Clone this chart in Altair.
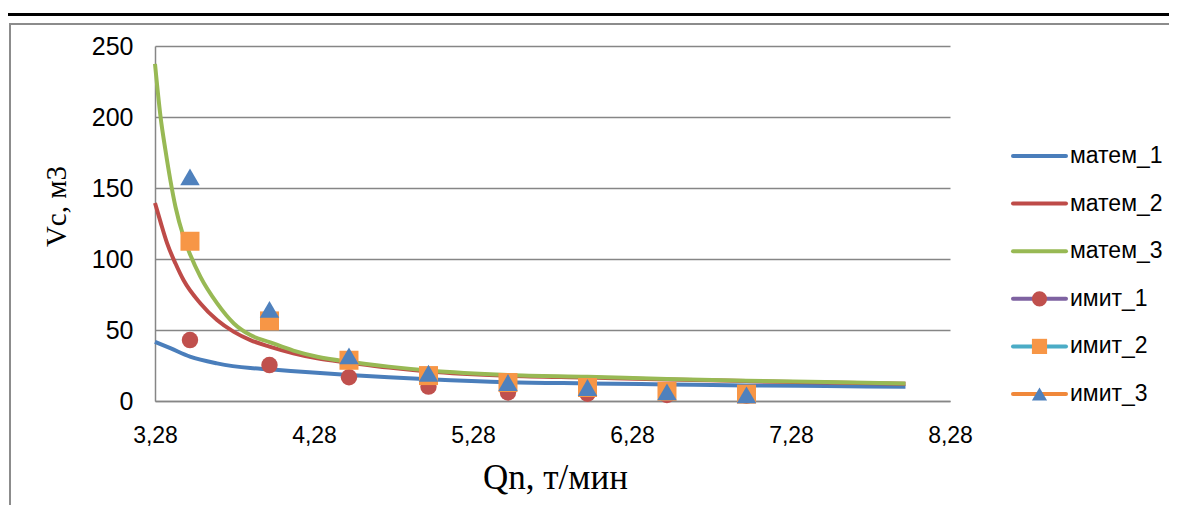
import altair as alt
import pandas as pd

# ---- data ----
m1_x = [3.28, 3.38, 3.50, 3.67, 3.88, 4.0, 4.25, 4.5, 4.75, 5.0, 5.5, 6.0, 6.5, 7.0, 7.5, 8.0]
m1_y = [41.7, 37.0, 31.2, 26.5, 23.2, 22.3, 20.2, 18.3, 16.7, 15.3, 13.2, 12.4, 11.7, 11.0, 10.5, 10.0]

m2_x = [3.28, 3.315, 3.357, 3.409, 3.46, 3.566, 3.67, 3.776, 3.88, 4.0, 4.15, 4.3, 4.5, 4.75,
        5.0, 5.5, 6.0, 6.5, 7.0, 7.5, 8.0]
m2_y = [139.4, 126.0, 110.8, 96.8, 85.0, 68.7, 57.0, 48.7, 42.9, 38.3, 33.6, 30.0, 27.0, 23.5,
        20.8, 17.8, 16.5, 15.2, 14.0, 13.0, 12.2]

m3_x = [3.28, 3.315, 3.346, 3.377, 3.409, 3.46, 3.503, 3.566, 3.671, 3.776, 3.88, 4.0, 4.15,
        4.3, 4.5, 4.75, 5.0, 5.5, 6.0, 6.5, 7.0, 7.5, 8.0]
m3_y = [237.4, 200.0, 176.4, 155.3, 136.6, 115.5, 102.6, 87.4, 68.7, 54.6, 46.4, 41.5, 35.5,
        31.2, 27.6, 24.2, 21.5, 18.3, 17.0, 15.5, 14.3, 13.3, 12.4]

im_x = [3.5, 4.0, 4.5, 5.0, 5.5, 6.0, 6.5, 7.0]
im1_y = [42.9, 25.3, 16.7, 10.1, 6.0, 5.1, 4.2, 3.7]
im2_y = [112.5, 56.4, 28.7, 17.9, 13.0, 9.5, 6.8, 4.8]
im3_y = [157.8, 64.5, 31.8, 19.5, 13.0, 9.5, 6.4, 4.3]

x_ticks = [3.28, 4.28, 5.28, 6.28, 7.28, 8.28]
y_ticks = [0, 50, 100, 150, 200, 250]

legend_names = ["матем_1", "матем_2", "матем_3", "имит_1", "имит_2", "имит_3"]
legend_line_colors = ["#4A7EBB", "#BE4B48", "#98B954", "#7E62A1", "#4BACC6", "#F0883A"]
marker_names = ["имит_1", "имит_2", "имит_3"]
marker_colors = ["#C0504D", "#F79646", "#4F81BD"]
marker_shapes = ["circle", "square", "triangle-up"]

GRID = "#868686"
SANS = "Liberation Sans"
SERIF = "Liberation Serif"

W, H = 795, 355
PAD = {"left": 147, "top": 38, "right": 219, "bottom": 104}

xscale = alt.Scale(domain=[3.28, 8.28], nice=False, zero=False)
yscale = alt.Scale(domain=[0, 250], nice=False)

x_axis = alt.Axis(
    values=x_ticks,
    labelExpr="replace(format(datum.value, '.2f'), '.', ',')",
    grid=False, ticks=False, domainColor=GRID, domainWidth=1.5,
    labelFont=SANS, labelFontSize=23, labelColor="#000", labelPadding=23,
    labelFlush=False,
    title="Qn, т/мин", titleFont=SERIF, titleFontSize=35, titleFontWeight="normal",
    titleColor="#000", titleX=400, titleY=87, titleBaseline="alphabetic", titleAlign="center",
)
y_axis = alt.Axis(
    values=y_ticks, grid=True, gridColor=GRID, gridWidth=1.5, ticks=False,
    domainColor=GRID, domainWidth=1.5,
    labelFont=SANS, labelFontSize=25, labelColor="#000", labelPadding=22,
    title="Vc, м3", titleFont=SERIF, titleFontSize=29, titleFontWeight="normal",
    titleColor="#000", titleX=-84, titleY=160, titleAngle=270, titleBaseline="bottom",
    titleAlign="center",
)

X = lambda: alt.X("x:Q", scale=xscale, axis=x_axis)
Y = lambda: alt.Y("y:Q", scale=yscale, axis=y_axis)


def line_layer(xs, ys, color):
    df = pd.DataFrame({"x": xs, "y": ys})
    return alt.Chart(df).mark_line(
        interpolate="monotone", strokeWidth=4, color=color
    ).encode(x=X(), y=Y())


def point_layer(ys, color, shape, size):
    df = pd.DataFrame({"x": im_x, "y": ys})
    return alt.Chart(df).mark_point(
        filled=True, shape=shape, size=size, color=color, opacity=1, strokeWidth=0
    ).encode(x=X(), y=Y())


l1 = line_layer(m1_x, m1_y, legend_line_colors[0])
l2 = line_layer(m2_x, m2_y, legend_line_colors[1])
l3 = line_layer(m3_x, m3_y, legend_line_colors[2])
p1 = point_layer(im1_y, marker_colors[0], marker_shapes[0], 270)
p2 = point_layer(im2_y, marker_colors[1], marker_shapes[1], 361)
p3 = point_layer(im3_y, marker_colors[2], marker_shapes[2], 380)

# decorative page frame (left and top edges, drawn as thin filled bars) and rule above the chart
deco = alt.Data(values=[{"k": 1}])
frame_left = alt.Chart(deco).mark_rect(color="#8C8C8C", strokeWidth=0).encode(
    x=alt.value(-146), x2=alt.value(-144), y=alt.value(-23), y2=alt.value(H + PAD["bottom"])
)
frame_top = alt.Chart(deco).mark_rect(color="#8C8C8C", strokeWidth=0).encode(
    x=alt.value(-146), x2=alt.value(W + PAD["right"]), y=alt.value(-23), y2=alt.value(-21)
)
top_rule = alt.Chart(deco).mark_rect(color="#000", strokeWidth=0).encode(
    x=alt.value(-PAD["left"]), x2=alt.value(W + PAD["right"]), y=alt.value(-33), y2=alt.value(-30)
)

main = alt.layer(l1, l2, l3, p1, p2, p3)
decor = alt.layer(frame_left, frame_top, top_rule)

# custom legend
leg_df = pd.DataFrame({"name": legend_names, "lc": legend_line_colors})
mk_df = pd.DataFrame({"name": marker_names, "mc": marker_colors, "shp": marker_shapes})
leg_y = alt.Y("name:N", scale=alt.Scale(domain=legend_names, range=[110, 348], type="point",
                                         padding=0), axis=None)

leg_lines = alt.Chart(leg_df).mark_rule(strokeWidth=4, strokeCap="round").encode(
    x=alt.value(858), x2=alt.value(911), y=leg_y,
    color=alt.Color("lc:N", scale=None, legend=None),
)
leg_marks = alt.Chart(mk_df).mark_point(filled=True, opacity=1, size=230, strokeWidth=0).encode(
    x=alt.value(884.5), y=leg_y,
    color=alt.Color("mc:N", scale=None, legend=None),
    shape=alt.Shape("shp:N", scale=None, legend=None),
)
leg_text = alt.Chart(leg_df).mark_text(
    align="left", baseline="middle", font=SANS, fontSize=23, color="#000"
).encode(x=alt.value(915), y=leg_y, text="name:N")

legend = alt.layer(leg_lines, leg_marks, leg_text)

chart = alt.layer(decor, main, legend).resolve_scale(y="independent").properties(
    width=W, height=H,
    autosize=alt.AutoSizeParams(type="none"),
    padding=PAD,
    background="white",
).configure_view(stroke=None)

chart.save("out.html", embed_options={"renderer": "svg", "actions": False})
